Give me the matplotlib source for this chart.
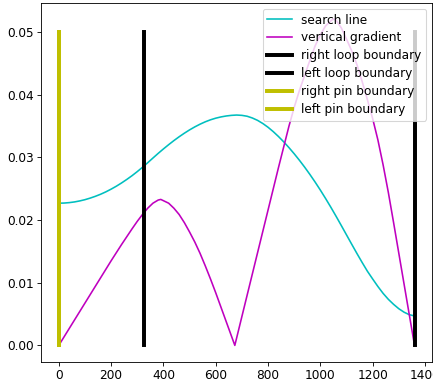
import matplotlib
matplotlib.use("Agg")
import matplotlib.pyplot as plt

plt.rcParams['font.size'] = 11.3

# search line
search_x = [0, 20, 40, 60, 80, 100, 120, 140, 160, 180, 200, 220, 240, 260, 280, 300,
            320, 340, 360, 380, 400, 420, 440, 460, 480, 500, 520, 540, 560, 580,
            600, 620, 640, 660, 680, 700, 720, 740, 760, 780, 800, 820, 840, 860,
            880, 900, 920, 940, 960, 980, 1000, 1020, 1040, 1060, 1080, 1100, 1120,
            1140, 1160, 1180, 1200, 1220, 1240, 1260, 1280, 1300, 1320, 1340, 1360]
search_y = [0.02270, 0.02272, 0.02279, 0.02290, 0.02306, 0.02326, 0.02351, 0.02380,
            0.02413, 0.02451, 0.02494, 0.02541, 0.02593, 0.02649, 0.02709, 0.02774,
            0.02843, 0.02916, 0.02991, 0.03065, 0.03136, 0.03204, 0.03269, 0.03330,
            0.03387, 0.03440, 0.03488, 0.03531, 0.03569, 0.03601, 0.03627, 0.03647,
            0.03662, 0.03672, 0.03677, 0.03672, 0.03658, 0.03630, 0.03592, 0.03542,
            0.03482, 0.03412, 0.03334, 0.03249, 0.03157, 0.03059, 0.02955, 0.02845,
            0.02729, 0.02607, 0.02479, 0.02345, 0.02206, 0.02062, 0.01914, 0.01764,
            0.01614, 0.01466, 0.01322, 0.01183, 0.01060, 0.00940, 0.00830, 0.00735,
            0.00655, 0.00585, 0.00530, 0.00490, 0.00470]

# vertical gradient
grad_x = [0, 40, 80, 120, 160, 200, 240, 280, 300, 320, 340, 360, 380, 390, 400, 420,
          440, 460, 480, 500, 520, 540, 560, 580, 600, 620, 640, 660, 673, 700, 720,
          760, 800, 840, 880, 900, 920, 940, 960, 980, 1000, 1020, 1040, 1050, 1060,
          1080, 1100, 1120, 1140, 1160, 1180, 1200, 1220, 1240, 1260, 1280, 1300,
          1320, 1340, 1360]
grad_y = [0.0000, 0.0027, 0.0054, 0.0081, 0.0108, 0.0135, 0.0161, 0.0186, 0.0198,
          0.0209, 0.0219, 0.0227, 0.0232, 0.0233, 0.0231, 0.0227, 0.0219, 0.0209,
          0.0196, 0.0181, 0.0165, 0.0147, 0.0127, 0.0106, 0.0084, 0.0061, 0.0038,
          0.0015, 0.0000, 0.0046, 0.0080, 0.0148, 0.0216, 0.0284, 0.0350, 0.0380,
          0.0407, 0.0431, 0.0455, 0.0478, 0.0496, 0.0510, 0.0518, 0.0521, 0.0519,
          0.0507, 0.0489, 0.0470, 0.0448, 0.0421, 0.0392, 0.0362, 0.0328, 0.0288,
          0.0244, 0.0196, 0.0147, 0.0098, 0.0049, 0.0000]

# boundaries
right_loop = 1360
left_loop = 326
right_pin = 0
left_pin = 0
bound_top = 0.05

fig = plt.figure(figsize=(433 / 77, 379 / 77), dpi=77)
ax = fig.add_axes([41 / 433, 17.3 / 379, 391.3 / 433, 359 / 379])

ax.plot(search_x, search_y, 'c', label='search line')
ax.plot(grad_x, grad_y, 'm', label='vertical gradient')
ax.plot([right_loop, right_loop], [0, bound_top], 'k', linewidth=3.7, label='right loop boundary')
ax.plot([left_loop, left_loop], [0, bound_top], 'k', linewidth=3.7, label='left loop boundary')
ax.plot([right_pin, right_pin], [0, bound_top], 'y', linewidth=3.7, label='right pin boundary')
ax.plot([left_pin, left_pin], [0, bound_top], 'y', linewidth=3.7, label='left pin boundary')

ax.legend(loc='upper right', labelspacing=0.4)

fig.savefig('out.png', dpi=77)
